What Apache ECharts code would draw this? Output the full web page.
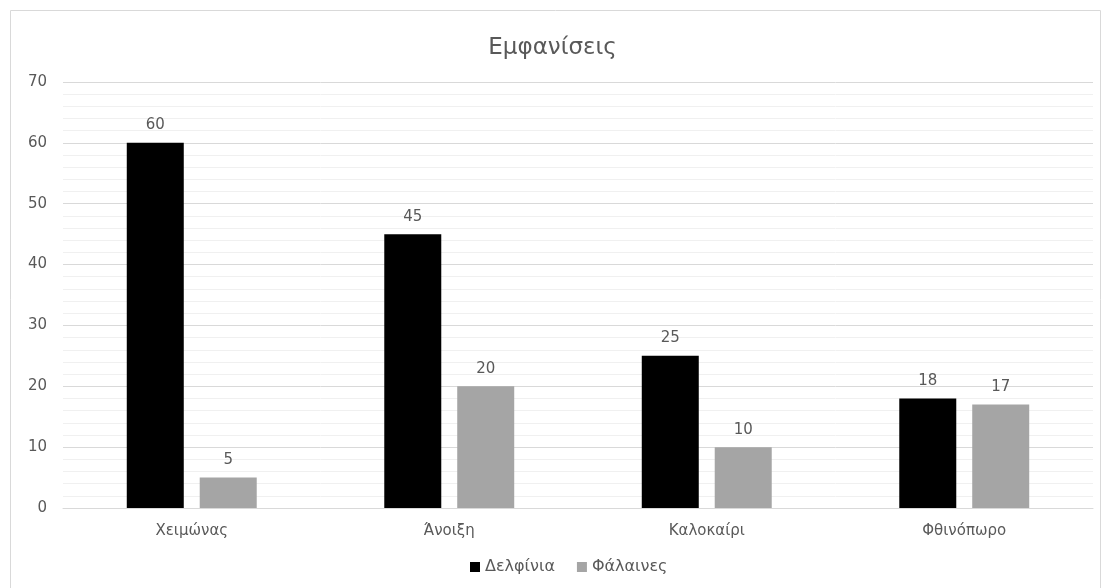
<!DOCTYPE html>
<html><head><meta charset="utf-8">
<script src="https://cdn.jsdelivr.net/npm/echarts@6/dist/echarts.min.js"></script>
<style>html,body{margin:0;padding:0;background:#fff}#c{width:1105px;height:588px}</style>
</head><body><div id="c"></div>
<script>
const titleText = 'Εμφανίσεις';
const categories = ['Χειμώνας', 'Άνοιξη', 'Καλοκαίρι', 'Φθινόπωρο'];
const seriesNames = ['Δελφίνια', 'Φάλαινες'];
const dolphins = [60, 45, 25, 18];
const whales = [5, 20, 10, 17];

const font = '"DejaVu Sans", "Open Sans", sans-serif';
const txt = '#595959';
const chart = echarts.init(document.getElementById('c'));
chart.setOption({
  animation: false,
  textStyle: { fontFamily: font },
  title: { text: titleText, left: 'center', top: 32, textStyle: { fontFamily: font, fontSize: 23, fontWeight: 'normal', color: txt } },
  graphic: [{ type: 'rect', shape: { x: 10.5, y: 10.5, width: 1090, height: 590 }, style: { fill: 'none', stroke: '#d9d9d9', lineWidth: 1 }, silent: true }],
  legend: {
    data: seriesNames, bottom: 8, left: 465, icon: 'rect', itemWidth: 10, itemHeight: 10, itemGap: 22,
    textStyle: { fontFamily: font, fontSize: 16, color: txt }
  },
  grid: { left: 63, right: 12, top: 82, bottom: 80, containLabel: false },
  xAxis: {
    type: 'category', data: categories,
    axisLine: { lineStyle: { color: '#d9d9d9' } }, axisTick: { show: false },
    axisLabel: { fontFamily: font, fontSize: 15, color: txt, margin: 16 }
  },
  yAxis: {
    type: 'value', min: 0, max: 70, interval: 10,
    axisLine: { show: false }, axisTick: { show: false },
    axisLabel: { fontFamily: font, fontSize: 15, color: txt, margin: 16 },
    splitLine: { lineStyle: { color: '#d9d9d9' } },
    minorTick: { show: false, splitNumber: 5 },
    minorSplitLine: { show: true, lineStyle: { color: '#f0f0f0' } }
  },
  series: [
    { name: seriesNames[0], type: 'bar', data: dolphins, barWidth: 57, barGap: '28%',
      itemStyle: { color: '#000000' },
      label: { show: true, position: 'top', distance: 10, fontFamily: font, fontSize: 15, color: txt } },
    { name: seriesNames[1], type: 'bar', data: whales, barWidth: 57,
      itemStyle: { color: '#a5a5a5' },
      label: { show: true, position: 'top', distance: 10, fontFamily: font, fontSize: 15, color: txt } }
  ]
});
</script></body></html>
